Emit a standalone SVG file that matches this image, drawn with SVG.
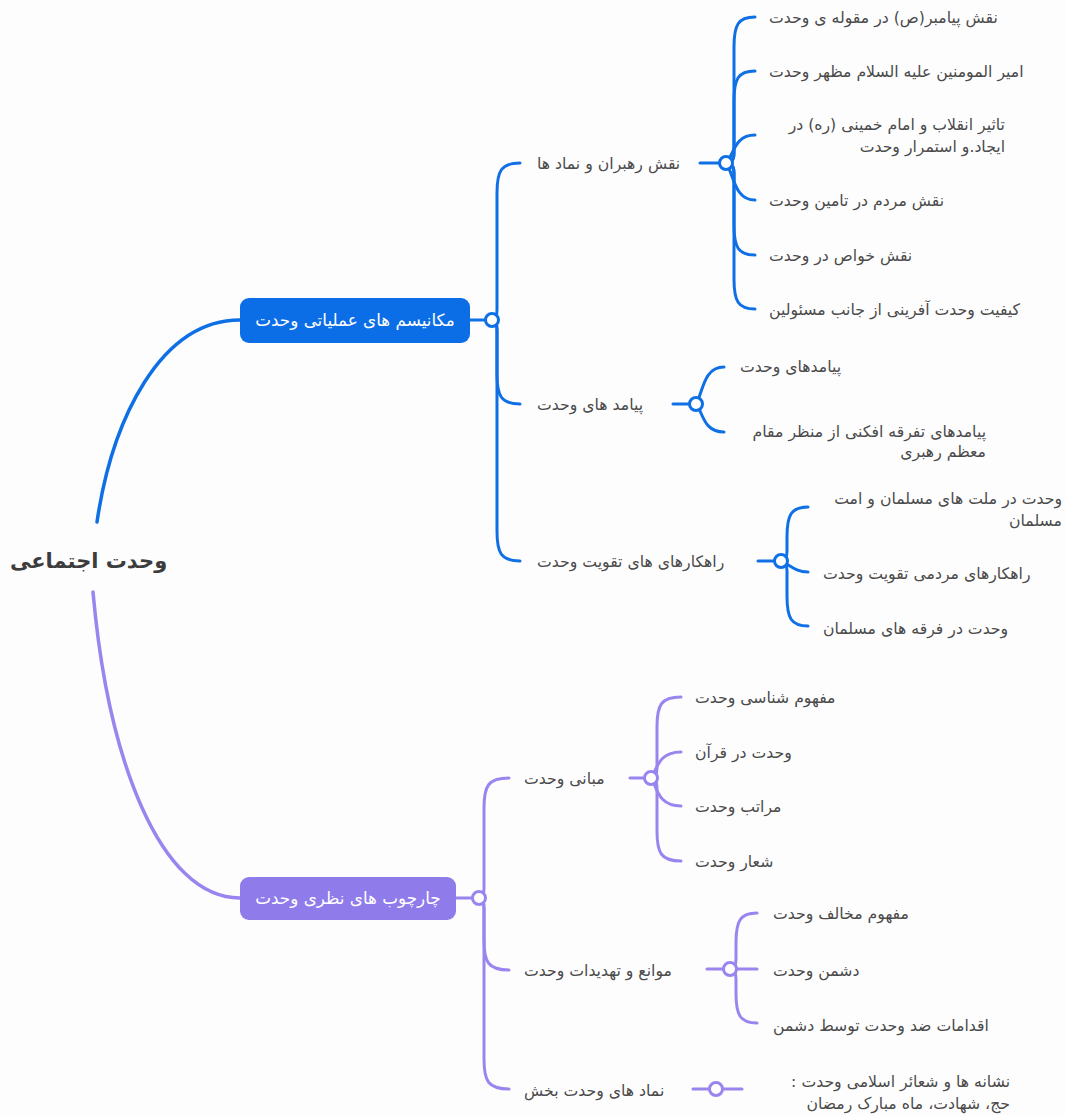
<svg xmlns="http://www.w3.org/2000/svg" width="1066" height="1115" viewBox="0 0 1066 1115">
<style>
text{font-family:"DejaVu Sans","Noto Sans",sans-serif;}
.t{font-size:15.7px;fill:#4a4a4a;}
.root{font-size:21px;font-weight:bold;fill:#3c3c3c;}
.box{font-size:16.8px;fill:#ffffff;}
.b{fill:none;stroke:#0f70e6;stroke-width:3;stroke-linecap:round;}
.p{fill:none;stroke:#9a85ef;stroke-width:3;stroke-linecap:round;}
.cb{fill:#ffffff;stroke:#0f70e6;stroke-width:3;}
.cp{fill:#ffffff;stroke:#9a85ef;stroke-width:3;}
</style>
<rect width="1066" height="1115" fill="#fdfdfe"/>
<g id="connectors">
<path class="b" d="M97,522 C112,420 160,320 240,320" style="stroke-width:3.5"/>
<path class="p" d="M93,592 C108,760 160,898 240,898" style="stroke-width:3.5"/>
<path class="b" d="M470,320 L492,320"/>
<path class="b" d="M492,320 Q497,320 497,310 L497,193 C497,171 501,163 520,163"/>
<path class="b" d="M492,320 Q497,320 497,330 L497,374 C497,396 501,404 520,404"/>
<path class="b" d="M492,320 Q497,320 497,330 L497,531 C497,553 501,561 520,561"/>
<path class="b" d="M700,163 L726,163"/>
<path class="b" d="M726,163 Q734,163 734,153 L734,47 C734,25 738,17 755,17"/>
<path class="b" d="M726,163 Q734,163 734,153 L734,101 C734,79 738,71 755,71"/>
<path class="b" d="M726,163 C734,155 734,135 755,135"/>
<path class="b" d="M726,163 C734,174 734,200 755,200"/>
<path class="b" d="M726,163 Q734,163 734,173 L734,225 C734,247 738,255 755,255"/>
<path class="b" d="M726,163 Q734,163 734,173 L734,279 C734,301 738,309 755,309"/>
<path class="b" d="M673,404 L696,404"/>
<path class="b" d="M696,404 C703,393 703,367 724,367"/>
<path class="b" d="M696,404 C703,412 703,432 724,432"/>
<path class="b" d="M758,561 L781,561"/>
<path class="b" d="M781,561 Q787,561 787,551 L787,537 C787,515 791,507 808,507"/>
<path class="b" d="M781,561 C790,565 795,572 808,572"/>
<path class="b" d="M781,561 Q787,561 787,571 L787,596 C787,618 791,626 808,626"/>
<path class="p" d="M456,898 L479,898"/>
<path class="p" d="M479,898 Q484,898 484,888 L484,808 C484,786 488,778 509,778"/>
<path class="p" d="M479,898 Q484,898 484,908 L484,940 C484,962 488,970 509,970"/>
<path class="p" d="M479,898 Q484,898 484,908 L484,1059 C484,1081 488,1089 509,1089"/>
<path class="p" d="M630,778 L651,778"/>
<path class="p" d="M651,778 Q657,778 657,768 L657,727 C657,705 661,697 681,697"/>
<path class="p" d="M651,778 C657,771 657,752 681,752"/>
<path class="p" d="M651,778 C657,786 657,806 681,806"/>
<path class="p" d="M651,778 Q657,778 657,788 L657,831 C657,853 661,861 681,861"/>
<path class="p" d="M707,969 L730,969"/>
<path class="p" d="M730,969 Q736,969 736,959 L736,943 C736,921 740,913 757,913"/>
<path class="p" d="M730,969 L757,969"/>
<path class="p" d="M730,969 Q736,969 736,979 L736,993 C736,1015 740,1023 757,1023"/>
<path class="p" d="M693,1089 L742,1089"/>
<circle class="cb" cx="492" cy="320" r="6.5"/>
<circle class="cb" cx="726" cy="163" r="6.5"/>
<circle class="cb" cx="696" cy="404" r="6.5"/>
<circle class="cb" cx="781" cy="561" r="6.5"/>
<circle class="cp" cx="479" cy="898" r="6.5"/>
<circle class="cp" cx="651" cy="778" r="6.5"/>
<circle class="cp" cx="730" cy="969" r="6.5"/>
<circle class="cp" cx="716" cy="1089" r="6.5"/>
</g>
<g id="root"><text class="root" x="10" y="568" direction="rtl" text-anchor="end">وحدت اجتماعی</text></g>
<g id="n-mechanisms"><rect x="240" y="298" width="230" height="45" rx="9" fill="#0c6ee6"/><text class="box" x="355" y="326" text-anchor="middle" direction="rtl">مکانیسم های عملیاتی وحدت</text></g>
<g id="n-leaders"><text class="t" x="537" y="169" direction="rtl" text-anchor="end">نقش رهبران و نماد ها</text></g>
<g id="l1"><text class="t" x="769" y="23" direction="rtl" text-anchor="end">نقش پیامبر(ص) در مقوله ی وحدت</text></g>
<g id="l2"><text class="t" x="769" y="77" direction="rtl" text-anchor="end">امیر المومنین علیه السلام مظهر وحدت</text></g>
<g id="l3"><text class="t" x="1005" y="130" direction="rtl" text-anchor="start">تاثیر انقلاب و امام خمینی (ره) در</text><text class="t" x="1005" y="152" direction="rtl" text-anchor="start">ایجاد.و استمرار وحدت</text></g>
<g id="l4"><text class="t" x="769" y="206" direction="rtl" text-anchor="end">نقش مردم در تامین وحدت</text></g>
<g id="l5"><text class="t" x="769" y="261" direction="rtl" text-anchor="end">نقش خواص در وحدت</text></g>
<g id="l6"><text class="t" x="769" y="315" direction="rtl" text-anchor="end">کیفیت وحدت آفرینی از جانب مسئولین</text></g>
<g id="n-outcomes"><text class="t" x="537" y="410" direction="rtl" text-anchor="end">پیامد های وحدت</text></g>
<g id="l7"><text class="t" x="740" y="372" direction="rtl" text-anchor="end">پیامدهای وحدت</text></g>
<g id="l8"><text class="t" x="986" y="437" direction="rtl" text-anchor="start">پیامدهای تفرقه افکنی از منظر مقام</text><text class="t" x="986" y="457" direction="rtl" text-anchor="start">معظم رهبری</text></g>
<g id="n-strategies"><text class="t" x="537" y="567" direction="rtl" text-anchor="end">راهکارهای های تقویت وحدت</text></g>
<g id="l9"><text class="t" x="1062" y="504" direction="rtl" text-anchor="start">وحدت در ملت های مسلمان و امت</text><text class="t" x="1062" y="526" direction="rtl" text-anchor="start">مسلمان</text></g>
<g id="l10"><text class="t" x="823" y="579" direction="rtl" text-anchor="end">راهکارهای مردمی تقویت وحدت</text></g>
<g id="l11"><text class="t" x="823" y="634" direction="rtl" text-anchor="end">وحدت در فرقه های مسلمان</text></g>
<g id="n-frameworks"><rect x="240" y="877" width="216" height="43" rx="9" fill="#8f7bea"/><text class="box" x="348" y="904" text-anchor="middle" direction="rtl">چارچوب های نظری وحدت</text></g>
<g id="n-foundations"><text class="t" x="524" y="784" direction="rtl" text-anchor="end">مبانی وحدت</text></g>
<g id="l12"><text class="t" x="695" y="703" direction="rtl" text-anchor="end">مفهوم شناسی وحدت</text></g>
<g id="l13"><text class="t" x="695" y="758" direction="rtl" text-anchor="end">وحدت در قرآن</text></g>
<g id="l14"><text class="t" x="695" y="812" direction="rtl" text-anchor="end">مراتب وحدت</text></g>
<g id="l15"><text class="t" x="695" y="867" direction="rtl" text-anchor="end">شعار وحدت</text></g>
<g id="n-obstacles"><text class="t" x="524" y="976" direction="rtl" text-anchor="end">موانع و تهدیدات وحدت</text></g>
<g id="l16"><text class="t" x="773" y="919" direction="rtl" text-anchor="end">مفهوم مخالف وحدت</text></g>
<g id="l17"><text class="t" x="773" y="976" direction="rtl" text-anchor="end">دشمن وحدت</text></g>
<g id="l18"><text class="t" x="773" y="1031" direction="rtl" text-anchor="end">اقدامات ضد وحدت توسط دشمن</text></g>
<g id="n-symbols"><text class="t" x="524" y="1096" direction="rtl" text-anchor="end">نماد های وحدت بخش</text></g>
<g id="l19"><text class="t" x="1010" y="1087" direction="rtl" text-anchor="start">نشانه ها و شعائر اسلامی وحدت :</text><text class="t" x="1010" y="1109" direction="rtl" text-anchor="start">حج، شهادت، ماه مبارک رمضان</text></g>
</svg>
